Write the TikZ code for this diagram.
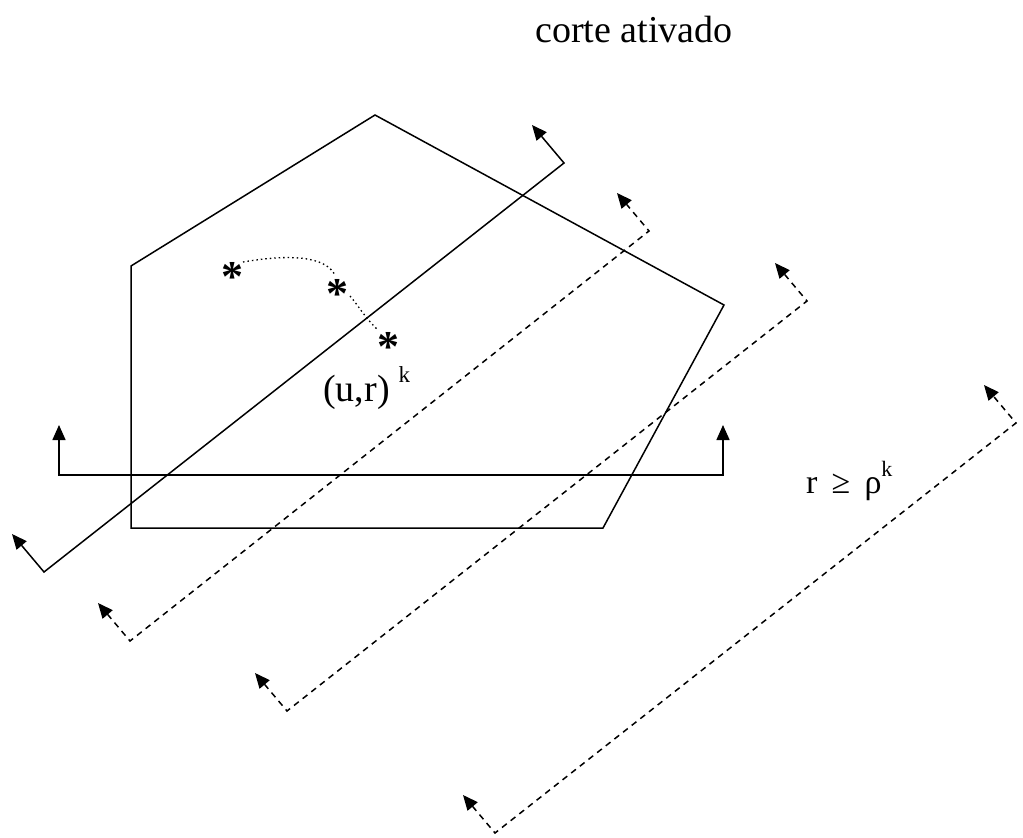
\documentclass[tikz,border=0pt]{standalone}
\usepackage{fontspec}
\setmainfont{Liberation Serif}
\usetikzlibrary{arrows.meta,calc}
\tikzset{
  edge/.style={line width=1.5pt, line join=miter},
  cutline/.style={line width=1.5pt, {Triangle[length=15pt,width=13pt]}-{Triangle[length=15pt,width=13pt]}},
  dashcut/.style={cutline, dash pattern=on 6pt off 5pt},
  dotcurve/.style={line width=1.3pt, dash pattern=on 1.5pt off 3pt},
  label/.style={inner sep=0pt, font=\fontsize{34}{34}\selectfont},
  staritem/.style={inner sep=0pt, anchor=center, font=\fontsize{44}{44}\selectfont\bfseries}
}
\newcommand{\starglyph}{\raisebox{-23pt}[7pt][7pt]{*}}
\begin{document}
\begin{tikzpicture}[x=1pt,y=-1pt]
\useasboundingbox (0,0) rectangle (1023,838);
% polygon
\coordinate (p1) at (375,115);
\coordinate (p2) at (724,305);
\coordinate (p3) at (603,528);
\coordinate (p4) at (131,528);
\coordinate (p5) at (131,266);
\draw[edge] (p1) -- (p2) -- (p3) -- (p4) -- (p5) -- cycle;
% horizontal cut
\coordinate (h0) at (59,425);
\coordinate (h1) at (59,475);
\coordinate (h2) at (723,475);
\coordinate (h3) at (723,425);
\draw[cutline] (h0) -- (h1) -- (h2) -- (h3);
% diagonal cuts
\coordinate (a1) at (44,572);   \coordinate (b1) at (564,163);
\coordinate (a2) at (130,641);  \coordinate (b2) at (649,231);
\coordinate (a3) at (287,711);  \coordinate (b3) at (807,301);
\coordinate (a4) at (495,833);  \coordinate (b4) at (1016,423);
\foreach \i in {1,2,3,4}{
  \coordinate (ta\i) at ($(a\i)+(-32,-38)$);
  \coordinate (tb\i) at ($(b\i)+(-32,-38)$);
}
\draw[cutline] (ta1) -- (a1) -- (b1) -- (tb1);
\draw[dashcut] (ta2) -- (a2) -- (b2) -- (tb2);
\draw[dashcut] (ta3) -- (a3) -- (b3) -- (tb3);
\draw[dashcut] (ta4) -- (a4) -- (b4) -- (tb4);
% stars and dotted path
\node[staritem] (n1) at (232,268) {\starglyph};
\node[staritem] (n2) at (337,285) {\starglyph};
\node[staritem] (n3) at (388,338) {\starglyph};
\draw[dotcurve] (243,262) .. controls (290,254) and (325,256) .. (335,275);
\draw[dotcurve] (350,296) .. controls (358,305) and (365,318) .. (378,330);
% labels
\node[label, anchor=base west] (title) at (535,42) {\fontsize{38}{38}\selectfont corte ativado};
\node[label, anchor=base west] (ur) at (323,401) {\fontsize{38}{38}\selectfont (u,r)\hspace{9pt}\raisebox{0.5em}{\fontsize{23}{23}\selectfont k}};
\node[label, anchor=base west] (rr) at (806,493) {r \,≥\, ρ\raisebox{0.5em}{\fontsize{22}{22}\selectfont k}};
\end{tikzpicture}
\end{document}
